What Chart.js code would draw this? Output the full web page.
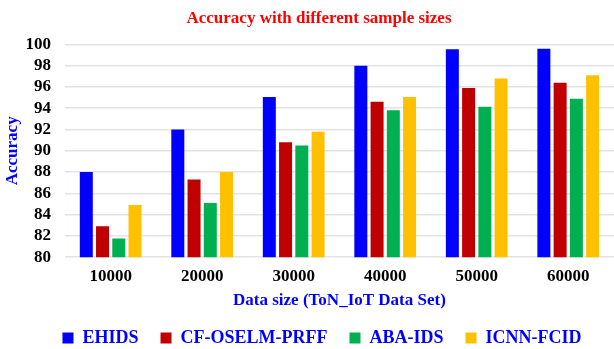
<!DOCTYPE html>
<html>
<head>
<meta charset="utf-8">
<script src="https://cdn.jsdelivr.net/npm/chart.js@4"></script>
<style>
  body { margin: 0; background: #fff; }
  #wrap { width: 614px; height: 349px; }
</style>
</head>
<body>
<div id="wrap"><canvas id="acc" width="614" height="349"></canvas></div>
<script>
const sizes = ['10000', '20000', '30000', '40000', '50000', '60000'];
const ehids = [88.0, 92.0, 95.05, 98.0, 99.55, 99.6];
const cfOselm = [82.9, 87.3, 90.8, 94.6, 95.9, 96.4];
const abaIds = [81.75, 85.1, 90.5, 93.8, 94.15, 94.9];
const icnnFcid = [84.9, 88.0, 91.8, 95.05, 96.8, 97.1];

const serif = 'Liberation Serif, Times New Roman, serif';

// nudge the title and legend a little right of the canvas centre
const shiftBlocks = {
  id: 'shiftBlocks',
  afterLayout(chart) {
    const t = chart.titleBlock;
    if (t) { t.left += 11; t.right += 11; }
    const l = chart.legend;
    if (l) { l.left += 14; l.right += 14; }
  }
};

const ctx = document.getElementById('acc');

new Chart(ctx, {
  type: 'bar',
  data: {
    labels: sizes,
    datasets: [
      { label: 'EHIDS', data: ehids, backgroundColor: '#0000FF' },
      { label: 'CF-OSELM-PRFF', data: cfOselm, backgroundColor: '#C00000' },
      { label: 'ABA-IDS', data: abaIds, backgroundColor: '#00B050' },
      { label: 'ICNN-FCID', data: icnnFcid, backgroundColor: '#FFC000' }
    ]
  },
  plugins: [shiftBlocks],
  options: {
    responsive: false,
    animation: false,
    barPercentage: 0.8,
    categoryPercentage: 0.71,
    layout: { padding: { left: 2, right: 0, top: 4, bottom: -8 } },
    plugins: {
      title: {
        display: true,
        text: 'Accuracy with different sample sizes',
        color: '#FF0000',
        font: { family: serif, size: 17, weight: 'bold' },
        padding: { top: 4, bottom: 16 }
      },
      legend: {
        position: 'bottom',
        labels: {
          color: '#0000FF',
          boxWidth: 11,
          boxHeight: 11,
          padding: 22,
          font: { family: serif, size: 18, weight: 'bold' }
        }
      },
      tooltip: { enabled: false }
    },
    scales: {
      x: {
        grid: { display: false, drawTicks: false },
        border: { display: false },
        ticks: {
          autoSkip: false,
          maxRotation: 0,
          color: '#000',
          padding: 9,
          font: { family: serif, size: 17, weight: 'bold' }
        },
        title: {
          display: true,
          text: 'Data size (ToN_IoT Data Set)',
          color: '#0000FF',
          padding: { top: -5, bottom: -4 },
          font: { family: serif, size: 17, weight: 'bold' }
        }
      },
      y: {
        min: 80,
        max: 100,
        border: { display: false },
        grid: { color: '#E3E3E3', lineWidth: 1.5, drawTicks: false },
        ticks: {
          stepSize: 2,
          autoSkip: false,
          color: '#000',
          padding: 14,
          font: { family: serif, size: 17, weight: 'bold' }
        },
        title: {
          display: true,
          text: 'Accuracy',
          color: '#0000FF',
          padding: { top: 0, bottom: -11 },
          font: { family: serif, size: 17, weight: 'bold' }
        }
      }
    }
  }
});
</script>
</body>
</html>
